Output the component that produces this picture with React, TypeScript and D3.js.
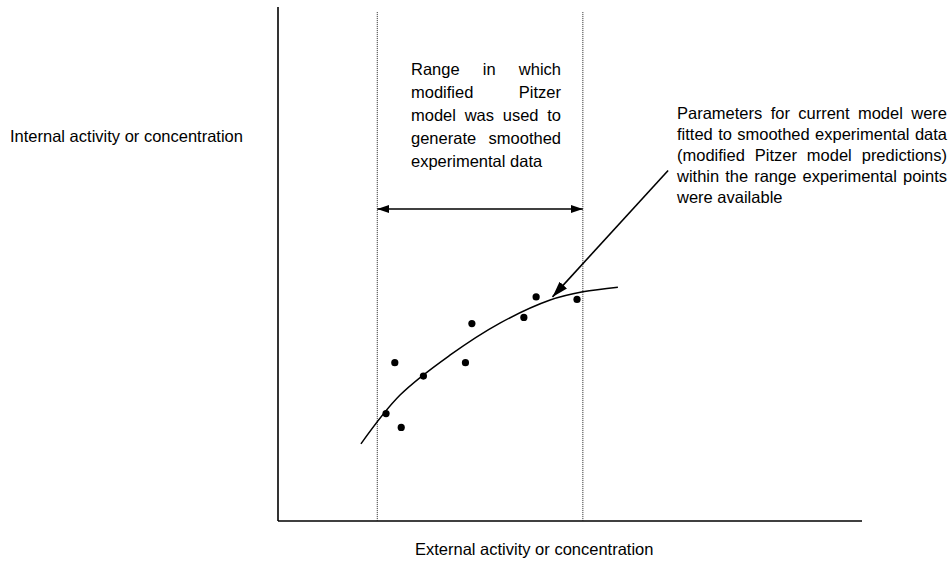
import React, { useEffect, useRef } from 'react';
import * as d3 from 'd3';

// measured points (arbitrary units, 0-100 on both axes)
const pointX = [18.5, 21.1, 20.0, 24.9, 32.1, 33.2, 42.1, 44.2, 51.2];
const pointY = [20.9, 18.2, 30.8, 28.2, 30.8, 38.4, 39.6, 43.6, 43.1];

// fitted model curve
const curveX = [14.2, 20.9, 29.5, 38.0, 46.6, 52.2, 58.2];
const curveY = [15.0, 24.5, 32.3, 38.5, 43.0, 44.6, 45.5];

// range where the modified Pitzer model was used
const rangeLimits = [17.0, 52.2];
const rangeArrowY = 60.7;

const middleLines = ['Range in which', 'modified Pitzer', 'model was used to', 'generate smoothed', 'experimental data'];
const rightLines = [
  'Parameters for current model were',
  'fitted to smoothed experimental data',
  '(modified Pitzer model predictions)',
  'within the range experimental points',
  'were available',
];

const xLabel = 'External activity or concentration';
const yLabel = 'Internal activity or concentration';

const W = 951;
const H = 561;
const FONT = '"Liberation Sans", Arial, sans-serif';

function App() {
  const ref = useRef<SVGSVGElement>(null);

  useEffect(() => {
    const svg = d3.select(ref.current);
    svg.selectAll('*').remove();

    const x = d3.scaleLinear().domain([0, 100]).range([278, 862]);
    const y = d3.scaleLinear().domain([0, 100]).range([521, 7]);

    const defs = svg.append('defs');
    defs.append('marker')
      .attr('id', 'bigHead')
      .attr('viewBox', '0 0 16 10')
      .attr('refX', 16).attr('refY', 5)
      .attr('markerWidth', 16).attr('markerHeight', 10)
      .attr('markerUnits', 'userSpaceOnUse')
      .attr('orient', 'auto')
      .append('path').attr('d', 'M0,0 L16,5 L0,10 Z').attr('fill', '#000');
    defs.append('marker')
      .attr('id', 'smallHead')
      .attr('viewBox', '0 0 12 8')
      .attr('refX', 12).attr('refY', 4)
      .attr('markerWidth', 12).attr('markerHeight', 8)
      .attr('markerUnits', 'userSpaceOnUse')
      .attr('orient', 'auto-start-reverse')
      .append('path').attr('d', 'M0,0 L12,4 L0,8 Z').attr('fill', '#000');

    // axes
    svg.append('line')
      .attr('x1', x(0)).attr('x2', x(0)).attr('y1', y(100)).attr('y2', y(0))
      .attr('stroke', '#000').attr('stroke-width', 1.6);
    svg.append('line')
      .attr('x1', x(0)).attr('x2', x(100)).attr('y1', y(0)).attr('y2', y(0))
      .attr('stroke', '#000').attr('stroke-width', 1.6);

    // dotted range lines
    rangeLimits.forEach((v) => {
      svg.append('line')
        .attr('x1', x(v)).attr('x2', x(v)).attr('y1', y(99)).attr('y2', y(0))
        .attr('stroke', '#222').attr('stroke-width', 1)
        .attr('stroke-dasharray', '1,1');
    });

    // double arrow
    svg.append('line')
      .attr('x1', x(rangeLimits[0])).attr('x2', x(rangeLimits[1]))
      .attr('y1', y(rangeArrowY)).attr('y2', y(rangeArrowY))
      .attr('stroke', '#000').attr('stroke-width', 1.4)
      .attr('marker-start', 'url(#smallHead)')
      .attr('marker-end', 'url(#smallHead)');

    // model curve
    const line = d3.line<number>()
      .x((d, i) => x(curveX[i]))
      .y((d) => y(d))
      .curve(d3.curveCatmullRom);
    svg.append('path')
      .attr('d', line(curveY))
      .attr('fill', 'none').attr('stroke', '#000').attr('stroke-width', 1.5);

    // experimental points
    svg.selectAll('circle.pt').data(pointX).enter().append('circle')
      .attr('class', 'pt')
      .attr('cx', (d) => x(d))
      .attr('cy', (d, i) => y(pointY[i]))
      .attr('r', 3.6).attr('fill', '#000');

    // callout arrow
    svg.append('line')
      .attr('x1', x(66.8)).attr('y1', y(68.2))
      .attr('x2', x(47.0)).attr('y2', y(43.6))
      .attr('stroke', '#000').attr('stroke-width', 1.6)
      .attr('marker-end', 'url(#bigHead)');

    const fontSize = 16.5;
    const justify = (lines: string[], left: number, right: number, top: number, step: number) => {
      lines.forEach((ln, li) => {
        const words = ln.split(' ');
        const by = top + li * step;
        const nodes = words.map((w) => svg.append('text')
          .attr('y', by)
          .attr('font-family', FONT).attr('font-size', fontSize).attr('fill', '#000')
          .text(w));
        const widths = nodes.map((n) => (n.node() as SVGTextElement).getComputedTextLength());
        const total = d3.sum(widths);
        const last = li === lines.length - 1;
        const gap = last || words.length < 2 ? fontSize * 0.278 : (right - left - total) / (words.length - 1);
        let cx = left;
        nodes.forEach((n, i) => {
          n.attr('x', cx);
          cx += widths[i] + gap;
        });
      });
    };

    justify(middleLines, 411, 561, 75, 23);
    justify(rightLines, 677, 947, 119, 21);

    svg.append('text')
      .attr('x', 10).attr('y', 142)
      .attr('font-family', FONT).attr('font-size', fontSize)
      .text(yLabel);
    svg.append('text')
      .attr('x', 415).attr('y', 555)
      .attr('font-family', FONT).attr('font-size', fontSize)
      .text(xLabel);
  }, []);

  return (
    <svg
      ref={ref}
      width={W}
      height={H}
      style={{ position: 'absolute', left: 0, top: 0, background: '#fff' }}
    />
  );
}

export default App;
